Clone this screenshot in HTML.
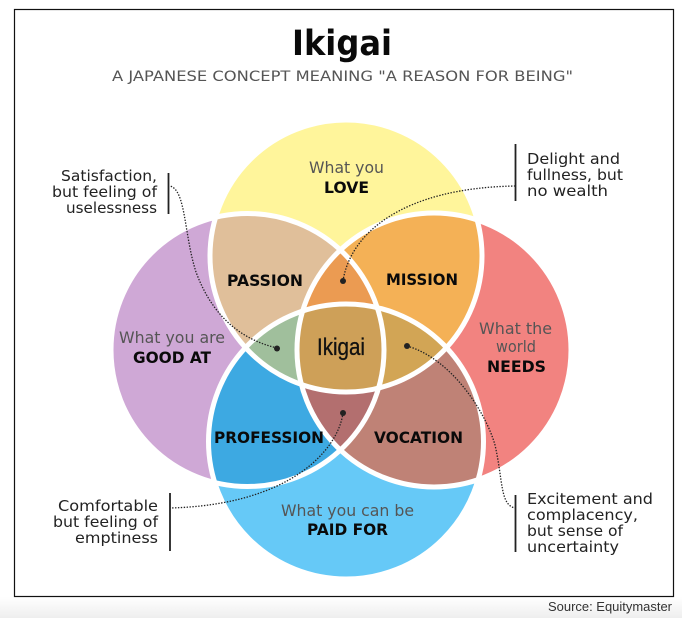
<!DOCTYPE html>
<html>
<head>
<meta charset="utf-8">
<style>
html,body{margin:0;padding:0;width:682px;height:618px;overflow:hidden;background:#fff}
svg{display:block}
text{font-family:"DejaVu Sans","Liberation Sans",sans-serif}
.n{font-size:15px;fill:#222}
.g{font-size:16px;fill:#555}
.b{font-size:16px;font-weight:bold;fill:#0a0a0a}
</style>
</head>
<body>
<svg width="682" height="618" viewBox="0 0 682 618" xmlns="http://www.w3.org/2000/svg">
<defs>
<linearGradient id="foot" x1="0" y1="0" x2="0" y2="1">
<stop offset="0" stop-color="#ffffff"/><stop offset="1" stop-color="#eeeeee"/>
</linearGradient>
<clipPath id="cL"><circle cx="247.500" cy="350" r="136.500"/></clipPath>
<clipPath id="cR"><circle cx="434" cy="350" r="137"/></clipPath>
<clipPath id="cT"><circle cx="346" cy="256" r="136"/></clipPath>
<clipPath id="cB"><circle cx="346" cy="441.500" r="137.500"/></clipPath>
</defs>

<rect x="0" y="597" width="682" height="21" fill="url(#foot)"/>
<rect x="14.5" y="9.5" width="659" height="587" fill="#fff" stroke="#111" stroke-width="1.2"/>

<text x="292" y="55" font-size="35" font-weight="bold" fill="#0a0a0a" textLength="100" lengthAdjust="spacingAndGlyphs">Ikigai</text>
<text x="112" y="81" font-size="14" fill="#555" textLength="461" lengthAdjust="spacingAndGlyphs">A JAPANESE CONCEPT MEANING "A REASON FOR BEING"</text>

<!-- base shapes -->
<circle cx="346" cy="256" r="136" fill="#FFF59B"/>
<circle cx="346" cy="441.500" r="137.500" fill="#66C9F7"/>
<circle cx="247.500" cy="350" r="136.500" fill="#CFA8D6"/>
<circle cx="434" cy="350" r="137" fill="#F28380"/>

<!-- pair overlaps -->
<g clip-path="url(#cT)">
  <g clip-path="url(#cL)"><rect x="100" y="100" width="500" height="400" fill="#E0BF9A"/></g>
  <g clip-path="url(#cR)"><rect x="100" y="100" width="500" height="400" fill="#F4B156"/></g>
</g>
<g clip-path="url(#cB)">
  <g clip-path="url(#cL)"><rect x="100" y="250" width="500" height="340" fill="#3DA9E2"/></g>
  <g clip-path="url(#cR)"><rect x="100" y="250" width="500" height="340" fill="#BF8276"/></g>
</g>
<!-- triple overlaps -->
<g clip-path="url(#cL)"><g clip-path="url(#cR)">
  <g clip-path="url(#cT)"><rect x="100" y="100" width="500" height="400" fill="#EB9B52"/></g>
  <g clip-path="url(#cB)"><rect x="100" y="250" width="500" height="340" fill="#B36F6F"/></g>
</g></g>
<g clip-path="url(#cT)"><g clip-path="url(#cB)">
  <g clip-path="url(#cL)"><rect x="100" y="250" width="500" height="200" fill="#A0BF9C"/></g>
  <g clip-path="url(#cR)"><rect x="100" y="250" width="500" height="200" fill="#D2A555"/></g>
  <g clip-path="url(#cL)"><g clip-path="url(#cR)"><rect x="100" y="250" width="500" height="200" fill="#CEA058"/></g></g>
</g></g>

<!-- white outlines -->
<g fill="none" stroke="#fff" stroke-width="5">
  <circle cx="247.500" cy="350" r="136.500"/>
  <circle cx="434" cy="350" r="137"/>
  <circle cx="346" cy="256" r="136"/>
  <circle cx="346" cy="441.500" r="137.500"/>
</g>

<!-- region labels -->
<text x="309" y="173" class="g" textLength="75" lengthAdjust="spacingAndGlyphs">What you</text>
<text x="324" y="193" class="b" textLength="45" lengthAdjust="spacingAndGlyphs">LOVE</text>
<text x="119" y="343" class="g" textLength="106" lengthAdjust="spacingAndGlyphs">What you are</text>
<text x="133" y="363" class="b" textLength="78" lengthAdjust="spacingAndGlyphs">GOOD AT</text>
<text x="479" y="334" class="g" textLength="73" lengthAdjust="spacingAndGlyphs">What the</text>
<text x="496" y="352" class="g" textLength="40" lengthAdjust="spacingAndGlyphs">world</text>
<text x="487" y="372" class="b" textLength="59" lengthAdjust="spacingAndGlyphs">NEEDS</text>
<text x="281" y="516" class="g" textLength="133" lengthAdjust="spacingAndGlyphs">What you can be</text>
<text x="307" y="535" class="b" textLength="81" lengthAdjust="spacingAndGlyphs">PAID FOR</text>

<text x="227" y="286" class="b" textLength="76" lengthAdjust="spacingAndGlyphs">PASSION</text>
<text x="386" y="285" class="b" textLength="72" lengthAdjust="spacingAndGlyphs">MISSION</text>
<text x="214" y="443" class="b" textLength="110" lengthAdjust="spacingAndGlyphs">PROFESSION</text>
<text x="374" y="443" class="b" textLength="89" lengthAdjust="spacingAndGlyphs">VOCATION</text>
<text x="317" y="355" font-size="24" fill="#111" stroke="#111" stroke-width="0.3" style="font-family:'Liberation Sans',sans-serif" textLength="48" lengthAdjust="spacingAndGlyphs">Ikigai</text>

<!-- dotted connectors -->
<g fill="none" stroke="#222" stroke-width="1.3" stroke-dasharray="1.4 1.5">
  <path d="M343 281 C350 235 400 188 515 186"/>
  <path d="M277 348 C235 338 210 310 196 272 C184 235 186 190 170 186"/>
  <path d="M407 346 C450 358 485 410 495 445 C503 480 500 505 515 508"/>
  <path d="M343 413 C338 450 290 505 170 508"/>
</g>
<g fill="#222">
  <circle cx="343" cy="281" r="3"/>
  <circle cx="277" cy="348.500" r="3"/>
  <circle cx="407" cy="346" r="3"/>
  <circle cx="343" cy="413" r="3"/>
</g>

<!-- side bars -->
<g stroke="#222" stroke-width="1.8">
  <line x1="168.500" y1="173" x2="168.500" y2="214"/>
  <line x1="515.500" y1="144" x2="515.500" y2="201"/>
  <line x1="170" y1="493" x2="170" y2="551"/>
  <line x1="515.500" y1="495" x2="515.500" y2="552"/>
</g>

<!-- side text -->
<text x="61" y="181" class="n" textLength="96" lengthAdjust="spacingAndGlyphs">Satisfaction,</text>
<text x="52" y="197" class="n" textLength="105" lengthAdjust="spacingAndGlyphs">but feeling of</text>
<text x="66" y="213" class="n" textLength="91" lengthAdjust="spacingAndGlyphs">uselessness</text>

<text x="527" y="164" class="n" textLength="93" lengthAdjust="spacingAndGlyphs">Delight and</text>
<text x="527" y="180" class="n" textLength="96" lengthAdjust="spacingAndGlyphs">fullness, but</text>
<text x="527" y="196" class="n" textLength="81" lengthAdjust="spacingAndGlyphs">no wealth</text>

<text x="58" y="511" class="n" textLength="100" lengthAdjust="spacingAndGlyphs">Comfortable</text>
<text x="53" y="527" class="n" textLength="105" lengthAdjust="spacingAndGlyphs">but feeling of</text>
<text x="75" y="543" class="n" textLength="83" lengthAdjust="spacingAndGlyphs">emptiness</text>

<text x="527" y="504" class="n" textLength="126" lengthAdjust="spacingAndGlyphs">Excitement and</text>
<text x="527" y="520" class="n" textLength="111" lengthAdjust="spacingAndGlyphs">complacency,</text>
<text x="527" y="536" class="n" textLength="96" lengthAdjust="spacingAndGlyphs">but sense of</text>
<text x="527" y="552" class="n" textLength="92" lengthAdjust="spacingAndGlyphs">uncertainty</text>

<text x="548" y="611" font-size="12.500" fill="#333" style="font-family:'Liberation Sans',sans-serif" textLength="124" lengthAdjust="spacingAndGlyphs">Source: Equitymaster</text>
</svg>
</body>
</html>
